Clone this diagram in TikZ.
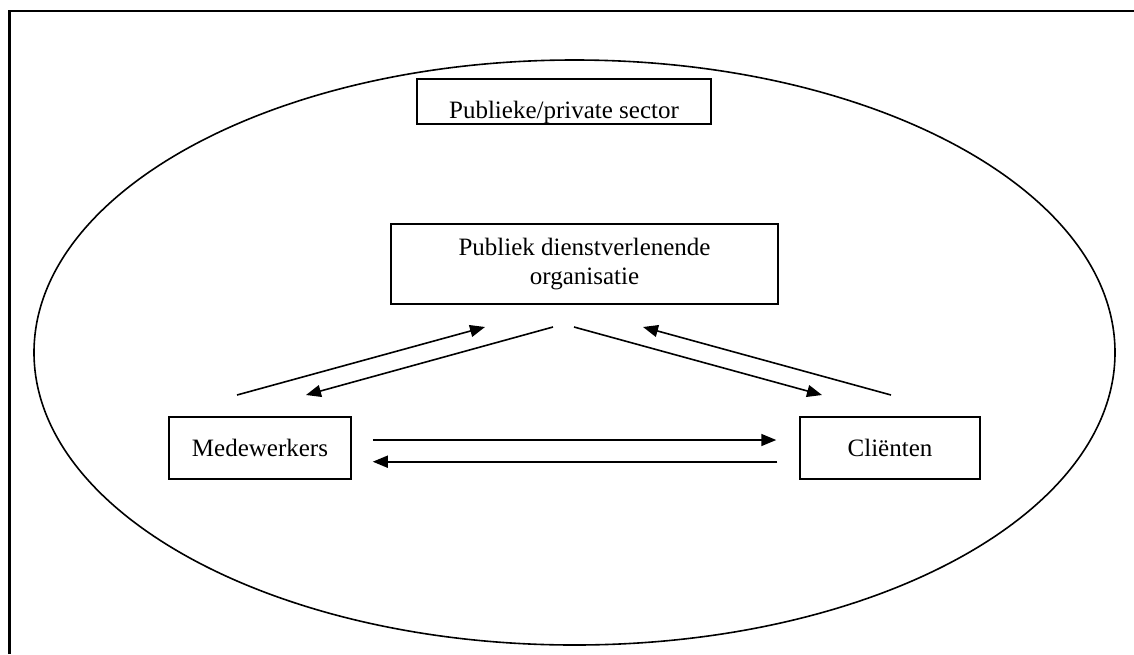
\documentclass[tikz,border=0pt]{standalone}
\usepackage{fontspec}
\setmainfont{Liberation Serif}
\usetikzlibrary{arrows.meta}

\begin{document}
\begin{tikzpicture}[x=1pt,y=-1pt,
    box/.style={draw,line width=1.5pt,inner sep=0pt,align=center,
      font=\fontsize{25}{29}\selectfont},
    link/.style={line width=1.6pt,-{Triangle[length=15pt,width=12pt]}}]
    \useasboundingbox (0,0) rectangle (1134,654);
    \draw[line width=2.5pt] (9.5,654) -- (9.5,11) -- (1134,11);
    \draw[line width=1.6pt] (574.5,352.5) ellipse [x radius=540.5,y radius=292.5];
    \node[box,minimum width=294pt,minimum height=45pt,text height=34pt,text depth=0pt] (sector) at (564,101.7) {Publieke/private sector};
    \node[box,minimum width=387pt,minimum height=80pt] (org) at (584.5,264) {Publiek dienstverlenende\\organisatie};
    \node[box,minimum width=182pt,minimum height=62pt] (medew) at (260,448) {Medewerkers};
    \node[box,minimum width=180pt,minimum height=62pt] (client) at (890,448) {Cliënten};
    % free ends of the arrows
    \coordinate (ml) at (237,395); \coordinate (mt) at (485,327);
    \coordinate (os) at (553,327); \coordinate (mh) at (306,395);
    \coordinate (cl) at (891,395); \coordinate (ct) at (643,327);
    \coordinate (oc) at (574,327); \coordinate (ch) at (822,395);
    \draw[link] (ml) -- (mt);
    \draw[link] (os) -- (mh);
    \draw[link] (cl) -- (ct);
    \draw[link] (oc) -- (ch);
    \draw[link] ([xshift=21pt]medew.east |- 0,440) -- ([xshift=-23pt]client.west |- 0,440);
    \draw[link] ([xshift=-22pt]client.west |- 0,461.7) -- ([xshift=21pt]medew.east |- 0,461.7);
\end{tikzpicture}
\end{document}
